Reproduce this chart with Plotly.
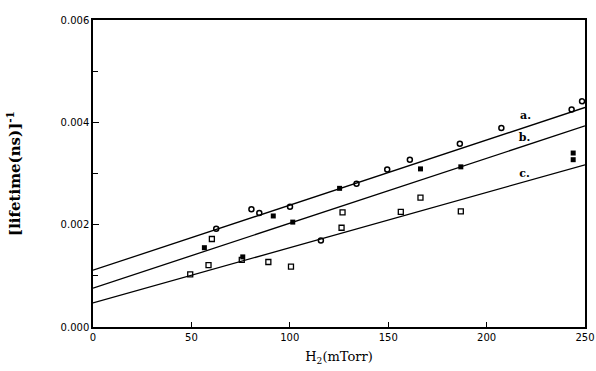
import plotly.graph_objects as go

# Fit lines (x endpoints and values)
line_x = [0, 250]
line_a = [0.00111, 0.00429]
line_b = [0.00076, 0.00393]
line_c = [0.00047, 0.00317]

# Open circles
circ_x = [62.6, 80.5, 84.5, 100.1, 115.8, 133.9, 149.5, 161.0, 186.4, 207.5, 243.2, 248.5]
circ_y = [0.00192, 0.00230, 0.00223, 0.00235, 0.00169, 0.00280, 0.00308, 0.00327, 0.00358, 0.00389, 0.00425, 0.00441]

# Filled squares
fill_x = [56.6, 76.1, 91.6, 101.5, 125.3, 166.4, 186.9, 244.0, 244.0]
fill_y = [0.00155, 0.00137, 0.00217, 0.00205, 0.00271, 0.00309, 0.00313, 0.00340, 0.00327]

# Open squares
sq_x = [49.4, 58.7, 60.4, 75.6, 89.1, 100.6, 126.3, 126.8, 156.4, 166.4, 186.9]
sq_y = [0.00103, 0.00121, 0.00172, 0.00131, 0.00127, 0.00118, 0.00194, 0.00224, 0.00225, 0.00253, 0.00226]

# Line labels
lab_text = ["<b>a.</b>", "<b>b.</b>", "<b>c.</b>"]
lab_x = [219.8, 219.3, 219.3]
lab_y = [0.00411, 0.00369, 0.00299]

x_ticks = [0, 50, 100, 150, 200, 250]
y_ticks = [0.000, 0.002, 0.004, 0.006]
y_tick_text = ["0.000", "0.002", "0.004", "0.006"]

fig = go.Figure()
for ly in (line_a, line_b, line_c):
    fig.add_trace(go.Scatter(x=line_x, y=ly, mode="lines",
                             line=dict(color="black", width=1.3), showlegend=False,
                             hoverinfo="skip"))

fig.add_trace(go.Scatter(x=circ_x, y=circ_y, mode="markers", showlegend=False,
                         marker=dict(symbol="circle-open", size=5, color="black",
                                     line=dict(width=1.5, color="black"))))
fig.add_trace(go.Scatter(x=fill_x, y=fill_y, mode="markers", showlegend=False,
                         marker=dict(symbol="square", size=5, color="black")))
fig.add_trace(go.Scatter(x=sq_x, y=sq_y, mode="markers", showlegend=False,
                         marker=dict(symbol="square-open", size=5, color="black",
                                     line=dict(width=1.3, color="black"))))
fig.add_trace(go.Scatter(x=lab_x, y=lab_y, mode="text", text=lab_text, showlegend=False,
                         textfont=dict(family="DejaVu Serif", size=11, color="black")))

fig.update_layout(
    width=596, height=371,
    margin=dict(l=93, r=11, t=20, b=44, autoexpand=False),
    paper_bgcolor="white", plot_bgcolor="white",
    xaxis=dict(range=[0, 250], tickvals=x_ticks, ticktext=[str(v) for v in x_ticks],
               automargin=False,
               showgrid=False, zeroline=False, showline=True, mirror=True,
               linecolor="black", linewidth=1.5, ticks="inside", ticklen=5,
               tickcolor="black", tickfont=dict(family="DejaVu Sans", size=10, color="black"),
               title=dict(text="H<sub>2</sub>(mTorr)", standoff=10,
                          font=dict(family="DejaVu Serif", size=13, color="black"))),
    yaxis=dict(range=[0, 0.006], tickvals=y_ticks, ticktext=y_tick_text,
               automargin=False,
               showgrid=False, zeroline=False, showline=True, mirror=True,
               linecolor="black", linewidth=1.5, ticks="inside", ticklen=6,
               tickcolor="black", tickfont=dict(family="DejaVu Sans", size=10, color="black"),
               minor=dict(dtick=0.001, tick0=0, ticks="inside", ticklen=5, tickcolor="black"),
               title=dict(text="<b>[lifetime(ns)]<sup>-1</sup></b>", standoff=36,
                          font=dict(family="DejaVu Serif", size=15, color="black"))),
)

fig.write_html("out.html")
